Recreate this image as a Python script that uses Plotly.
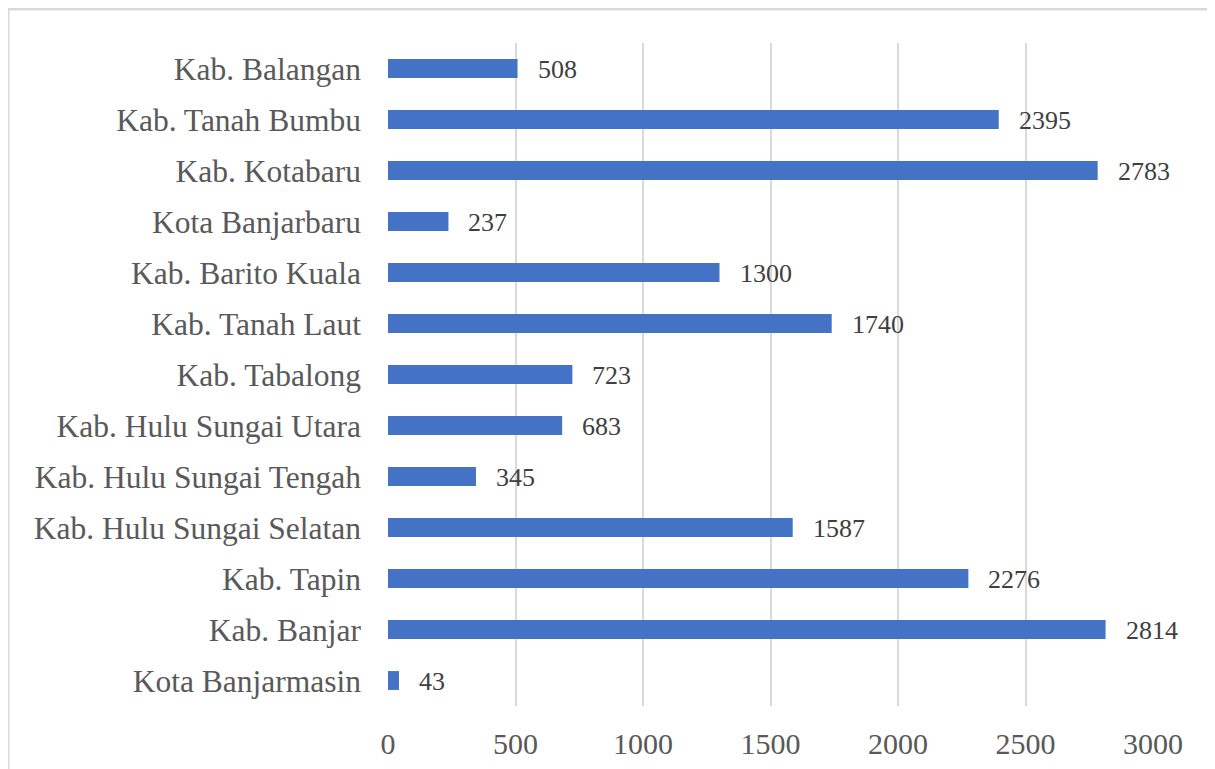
import plotly.graph_objects as go

categories = ["Kota Banjarmasin", "Kab. Banjar", "Kab. Tapin", "Kab. Hulu Sungai Selatan",
              "Kab. Hulu Sungai Tengah", "Kab. Hulu Sungai Utara", "Kab. Tabalong",
              "Kab. Tanah Laut", "Kab. Barito Kuala", "Kota Banjarbaru", "Kab. Kotabaru",
              "Kab. Tanah Bumbu", "Kab. Balangan"]
values = [43, 2814, 2276, 1587, 345, 683, 723, 1740, 1300, 237, 2783, 2395, 508]
x_ticks = [0, 500, 1000, 1500, 2000, 2500, 3000]

FONT = "Times New Roman"
TXT = "#595959"
GRID = "#d9d9d9"

fig = go.Figure()
fig.add_trace(go.Bar(
    y=categories, x=values, orientation="h",
    marker=dict(color="#4472C4", line=dict(width=0)),
    hoverinfo="x+y",
))

for c, v in zip(categories, values):
    fig.add_annotation(x=v, y=c, text=str(v), showarrow=False, xanchor="left",
                       xshift=18, yshift=-1, font=dict(family=FONT, size=26, color="#404040"))

# page has an 8px body offset
OFF = 8
L, R, T, B = 388 - OFF, 62, 43 - OFF, 63
W, H = 1215 - OFF, 769 - OFF
pw, ph = W - L - R, H - T - B

fig.add_shape(type="rect", xref="paper", yref="paper",
              x0=(8 - OFF - L) / pw, x1=1.3, y0=-0.3, y1=1 + (T - (9 - OFF)) / ph,
              line=dict(color=GRID, width=3), fillcolor="rgba(0,0,0,0)", layer="below")

fig.update_layout(
    width=W, height=H,
    margin=dict(l=L, r=R, t=T, b=B, autoexpand=False),
    paper_bgcolor="white", plot_bgcolor="white",
    bargap=0.63, showlegend=False,
    font=dict(family=FONT, color=TXT),
    xaxis=dict(range=[0, 3000], tickvals=x_ticks, showgrid=True, gridcolor=GRID,
               gridwidth=2, zeroline=False, showline=False, automargin=False,
               tickfont=dict(family=FONT, size=30, color=TXT), ticks="",
               ticklabelstandoff=17),
    yaxis=dict(categoryorder="array", categoryarray=categories, range=[-0.5, 12.5],
               showgrid=False, zeroline=False, showline=False, ticks="", automargin=False,
               tickfont=dict(family=FONT, size=31.5, color=TXT), ticklabelstandoff=26),
)
fig.write_html("out.html")
